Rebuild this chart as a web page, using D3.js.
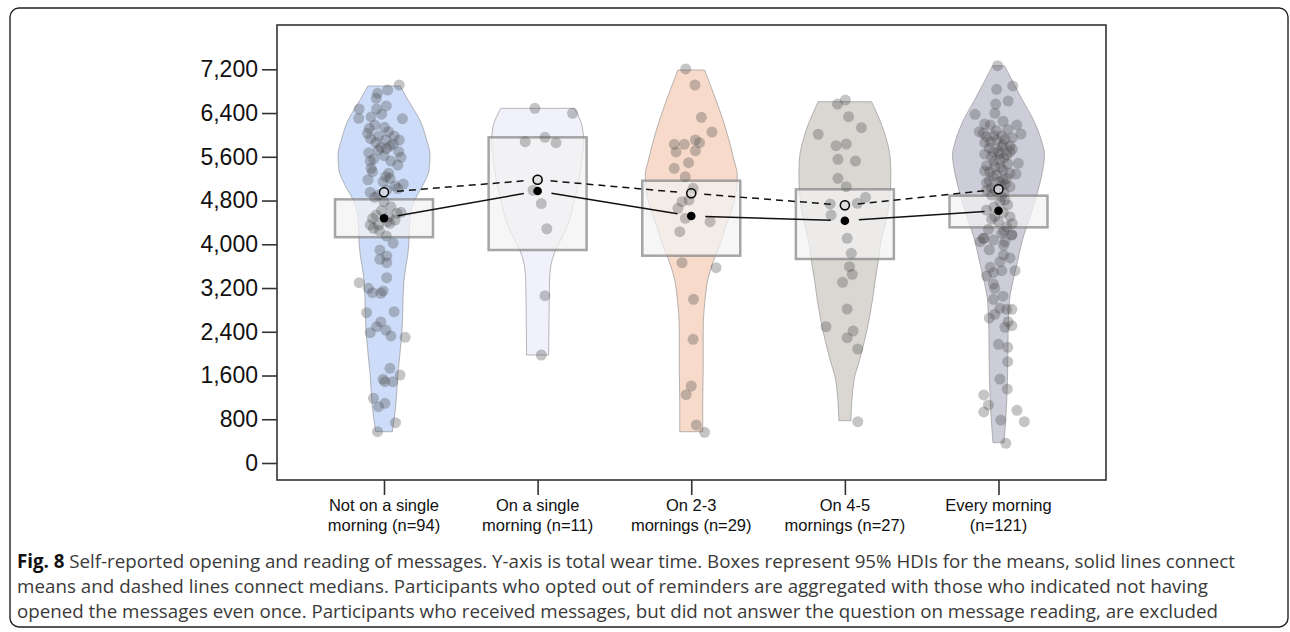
<!DOCTYPE html>
<html>
<head>
<meta charset="utf-8">
<script src="https://cdn.jsdelivr.net/npm/d3@7"></script>
<style>
  body { margin: 0; background: #fff; }
  svg { display: block; }
</style>
</head>
<body>
<svg></svg>
<script>
const width = 1290;
const height = 632;

// categories and model summaries (wear time, minutes)
const categories = [
  ['Not on a single', 'morning (n=94)'],
  ['On a single', 'morning (n=11)'],
  ['On 2-3', 'mornings (n=29)'],
  ['On 4-5', 'mornings (n=27)'],
  ['Every morning', '(n=121)']
];
const means   = [4475, 4974, 4517, 4431, 4614];
const medians = [4950, 5181, 4932, 4713, 5005];
const hdiLow  = [4130, 3895, 3791, 3731, 4310];
const hdiHigh = [4822, 5956, 5163, 5005, 4889];
const yTicks = [0, 800, 1600, 2400, 3200, 4000, 4800, 5600, 6400, 7200];
const fills = ['#c4d6f7', '#eeeefb', '#f6d3c1', '#d4d0ca', '#c4c4d2'];

// violin outlines: [value, relative density]
const violin1 = [[572,0.18],[1000,0.25],[1600,0.30],[2400,0.39],[3300,0.43],[4000,0.54],[4260,0.55],[4535,0.57],[4810,0.67],[5085,0.85],[5360,0.98],[5630,1.0],[5900,0.93],[6270,0.78],[6640,0.52],[6895,0.35]];
const violin2 = [[1975,0.24],[2800,0.25],[3347,0.26],[3621,0.29],[3895,0.39],[4078,0.50],[4444,0.69],[4810,0.80],[5175,0.90],[5541,0.96],[5907,1.0],[6150,0.97],[6487,0.80]];
const violin3 = [[572,0.25],[1152,0.25],[1701,0.26],[2432,0.26],[2981,0.30],[3347,0.36],[3712,0.49],[4078,0.66],[4261,0.72],[4627,0.88],[4993,0.98],[5267,1.0],[5541,0.93],[5907,0.82],[6273,0.69],[6655,0.53],[7187,0.29]];
const violin4 = [[774,0.13],[1518,0.20],[1884,0.32],[2432,0.48],[2981,0.60],[3347,0.66],[3712,0.73],[4078,0.79],[4444,0.90],[4993,0.99],[5267,1.0],[5541,0.99],[6090,0.84],[6607,0.58]];
const violin5 = [[371,0.12],[969,0.17],[1701,0.20],[2432,0.21],[2981,0.24],[3347,0.32],[3712,0.42],[4078,0.52],[4444,0.66],[4810,0.80],[5267,0.94],[5633,1.0],[5907,0.93],[6273,0.76],[6639,0.52],[7266,0.13]];

// participants: [value, jitter]
const points1 = [[6913,0.33],[6821,0.08],[6761,-0.14],[6670,-0.17],[6474,-0.54],[6304,-0.55],[6474,-0.16],[6328,-0.28],[6297,0.40],[6181,-0.2],
  [6139,0.01],[6030,-0.36],[5931,-0.29],[5980,-0.12],[5907,0.04],[5980,0.22],[5907,0.33],[5774,-0.07],[5797,0.13],[5693,0.32],
  [5591,0.37],[5675,-0.33],[5724,-0.12],[5523,0.15],[5523,-0.3],[5327,-0.25],[5389,-0.28],[5236,0.04],[5207,0.13],[5145,-0.02],
  [5071,0.24],[5102,0.42],[4951,-0.3],[4901,-0.12],[4993,0.06],[4687,0.15],[4567,0.28],[4585,0.37],[4535,-0.17],[4413,0.07],
  [4444,0.24],[4353,-0.3],[4292,-0.23],[4384,0.13],[4353,-0.12],[3895,-0.09],[3786,0.06],[3725,-0.09],[3663,0.06],[3389,0.06],
  [3297,-0.54],[3195,-0.34],[3114,-0.25],[3146,-0.02],[3103,-0.07],[2749,-0.38],[2767,0.22],[2579,-0.07],[2493,-0.16],[2432,0.04],
  [2383,-0.3],[2323,0.15],[2299,0.46],[1732,0.13],[1609,0.35],[1531,-0.02],[1487,0.19],[1487,0.02],[1183,-0.23],[1030,-0.12],
  [1092,0.02],[737,0.25],[572,-0.14],[6530,0.05],[6380,-0.05],[6120,-0.32],[6060,0.1],[5860,-0.18],[5830,0.2],[5750,0.05],
  [5620,0.0],[5560,-0.22],[5450,0.3],[5300,0.1],[5180,-0.35],[5020,0.3],[4860,-0.2],[4780,0.0],[4620,-0.05],[4500,0.1],
  [4470,-0.25],[4250,-0.1],[4150,0.05],[4020,0.2]];
const points2 = [[6487,-0.06],[6396,0.76],[5876,-0.27],[5957,0.16],[5858,0.4],[5181,0.0],[4988,-0.1],[4745,0.08],[4284,0.2],[3059,0.16],[1975,0.08]];
const points3 = [[7206,-0.12],[6913,0.08],[6322,0.22],[6053,0.45],[5828,-0.37],[5828,-0.15],[5907,0.09],[5858,0.18],[5688,-0.33],[5711,0.09],
  [5492,-0.06],[5389,-0.37],[5236,-0.13],[5024,0.04],[4932,0.0],[4810,-0.05],[4779,-0.2],[4658,-0.29],[4475,-0.13],[4413,0.41],
  [4230,-0.25],[3663,-0.2],[3572,0.54],[2994,0.05],[2262,0.04],[1408,0.0],[1249,-0.11],[695,0.11],[561,0.29]];
const points4 = [[6638,0.01],[6565,-0.16],[6333,0.08],[6132,0.36],[6011,-0.58],[5834,0.03],[5803,-0.19],[5554,-0.15],[5523,0.23],[5207,-0.15],
  [5053,0.03],[4859,0.45],[4750,0.27],[4713,0.0],[4737,-0.32],[4535,-0.3],[4109,0.05],[3835,0.14],[3590,0.1],[3451,0.16],
  [3305,-0.05],[2816,0.05],[2493,-0.41],[2414,0.18],[2292,0.05],[2085,0.28],[755,0.28]];
const points5 = [[7266,-0.02],[6895,0.31],[6834,-0.04],[6620,0.21],[6565,-0.06],[6396,-0.08],[6377,-0.51],[6181,-0.18],[6181,0.4],[6059,-0.42],
  [6030,-0.33],[6017,0.49],[5967,-0.26],[5990,-0.1],[5980,0.07],[5876,-0.17],[5900,-0.04],[5920,0.14],[5797,0.25],[5790,0.07],
  [5693,-0.11],[5660,0.03],[5633,0.18],[5690,0.25],[5602,-0.15],[5541,0.03],[5481,0.43],[5437,-0.26],[5419,-0.08],[5358,0.1],
  [5327,-0.19],[5267,-0.04],[5207,0.18],[5285,0.38],[5145,0.03],[5126,-0.26],[5053,0.25],[5100,0.14],[4993,-0.08],[4870,0.07],
  [4779,0.03],[4990,-0.26],[4627,-0.26],[4810,0.14],[4504,0.25],[4504,-0.08],[4413,0.0],[4321,0.18],[4274,-0.22],[4201,0.07],
  [4109,-0.33],[4170,0.29],[4078,-0.11],[4047,0.14],[4047,-0.4],[4109,-0.32],[4170,0.29],[3987,0.11],[3804,0.11],[3681,0.03],
  [3579,-0.18],[3420,-0.26],[3480,-0.11],[3517,0.07],[3517,0.36],[3274,-0.11],[3195,-0.08],[2994,-0.11],[2829,0.03],[2811,0.18],
  [2811,0.29],[2719,-0.08],[2584,0.21],[2511,0.29],[2482,0.14],[2171,0.0],[2116,0.2],[1853,0.2],[1536,0.03],[1353,0.19],
  [1244,-0.32],[1061,-0.22],[933,-0.32],[964,0.4],[786,0.05],[755,0.56],[360,0.16],
  [6250,0.1],[6200,-0.3],[6100,0.2],[6080,-0.05],[5950,0.3],[5860,-0.3],[5820,0.1],[5760,-0.2],[5740,0.3],[5700,0.0],
  [5650,-0.3],[5580,0.12],[5520,-0.1],[5470,0.2],[5400,0.05],[5340,-0.3],[5300,0.25],[5240,-0.12],[5180,0.1],[5160,-0.2],
  [5080,0.05],[5030,-0.15],[4950,0.12],[4900,-0.15],[4720,0.2],[4680,-0.1],[4580,0.1],[4460,-0.15],[4380,0.3],[4240,0.12],
  [3900,-0.2],[3750,0.25],[3050,0.1],[2650,-0.2]];

const violins = [violin1, violin2, violin3, violin4, violin5];
const points = [points1, points2, points3, points4, points5];

const svg = d3.select('svg')
  .attr('width', width)
  .attr('height', height);

const frame = { left: 277, right: 1106, top: 25, bottom: 480 };

const x = d3.scalePoint()
  .domain(d3.range(categories.length))
  .range([384, 998.5]);

const y = d3.scaleLinear()
  .domain([0, 7200])
  .range([463, 69.3]);

const w = d3.scaleLinear().domain([0, 1]).range([0, 46]);
const boxHalf = 49;

// outer figure border
svg.append('rect')
  .attr('x', 10).attr('y', 8)
  .attr('width', 1278).attr('height', 619)
  .attr('rx', 9)
  .attr('fill', 'none')
  .attr('stroke', '#222')
  .attr('stroke-width', 1.4);

// plot frame
svg.append('rect')
  .attr('x', frame.left).attr('y', frame.top)
  .attr('width', frame.right - frame.left)
  .attr('height', frame.bottom - frame.top)
  .attr('fill', 'none')
  .attr('stroke', '#333')
  .attr('stroke-width', 1.6);

// violins
const area = d3.area()
  .curve(d3.curveMonotoneY)
  .y(d => y(d[0]));

svg.append('g').selectAll('path')
  .data(violins)
  .join('path')
    .attr('d', (d, i) => area
      .x0(p => x(i) - w(p[1]))
      .x1(p => x(i) + w(p[1]))(d))
    .attr('fill', (d, i) => fills[i])
    .attr('fill-opacity', 0.85)
    .attr('stroke', '#8a8a8a')
    .attr('stroke-opacity', 0.6)
    .attr('stroke-width', 1);

// HDI boxes
svg.append('g').selectAll('rect')
  .data(d3.range(categories.length))
  .join('rect')
    .attr('x', i => x(i) - boxHalf)
    .attr('y', i => y(hdiHigh[i]))
    .attr('width', boxHalf * 2)
    .attr('height', i => y(hdiLow[i]) - y(hdiHigh[i]))
    .attr('fill', '#f2f2f2')
    .attr('fill-opacity', 0.72)
    .attr('stroke', '#888')
    .attr('stroke-opacity', 0.75)
    .attr('stroke-width', 2.5);

// jittered participants
svg.append('g').selectAll('g')
  .data(points)
  .join('g')
  .each(function(d, i) {
    d3.select(this).selectAll('circle')
      .data(d)
      .join('circle')
        .attr('cx', p => x(i) + w(p[1]))
        .attr('cy', p => y(p[0]))
        .attr('r', 5.5)
        .attr('fill', '#4a4a4a')
        .attr('fill-opacity', 0.32);
  });

// connecting lines, stopped short of the markers
function segments(values, gap) {
  const out = [];
  for (let i = 0; i < values.length - 1; i++) {
    const x1 = x(i), y1 = y(values[i]);
    const x2 = x(i + 1), y2 = y(values[i + 1]);
    const len = Math.hypot(x2 - x1, y2 - y1);
    const ux = (x2 - x1) / len, uy = (y2 - y1) / len;
    out.push([x1 + ux * gap, y1 + uy * gap, x2 - ux * gap, y2 - uy * gap]);
  }
  return out;
}

svg.append('g').selectAll('line')
  .data(segments(means, 14))
  .join('line')
    .attr('x1', d => d[0]).attr('y1', d => d[1])
    .attr('x2', d => d[2]).attr('y2', d => d[3])
    .attr('stroke', '#111')
    .attr('stroke-width', 1.5);

svg.append('g').selectAll('line')
  .data(segments(medians, 13))
  .join('line')
    .attr('x1', d => d[0]).attr('y1', d => d[1])
    .attr('x2', d => d[2]).attr('y2', d => d[3])
    .attr('stroke', '#111')
    .attr('stroke-width', 1.5)
    .attr('stroke-dasharray', '7,5');

// mean and median markers
svg.append('g').selectAll('circle')
  .data(means)
  .join('circle')
    .attr('cx', (d, i) => x(i))
    .attr('cy', d => y(d))
    .attr('r', 4.3)
    .attr('fill', '#000');

svg.append('g').selectAll('circle')
  .data(medians)
  .join('circle')
    .attr('cx', (d, i) => x(i))
    .attr('cy', d => y(d))
    .attr('r', 4.5)
    .attr('fill', '#fff')
    .attr('fill-opacity', 0.55)
    .attr('stroke', '#000')
    .attr('stroke-width', 1.5);

// y axis
const yAxis = svg.append('g')
  .attr('transform', `translate(${frame.left},0)`)
  .call(d3.axisLeft(y)
    .tickValues(yTicks)
    .tickSize(15)
    .tickPadding(4)
    .tickFormat(d3.format(',')));
yAxis.select('.domain').remove();
yAxis.selectAll('line').attr('stroke', '#333').attr('stroke-width', 1.6);
yAxis.selectAll('text')
  .attr('font-family', '"Liberation Sans", Arial, sans-serif')
  .attr('font-size', 23)
  .attr('fill', '#111');

// x axis
const xAxis = svg.append('g')
  .attr('transform', `translate(0,${frame.bottom})`)
  .call(d3.axisBottom(x).tickSize(15).tickFormat(''));
xAxis.select('.domain').remove();
xAxis.selectAll('line').attr('stroke', '#333').attr('stroke-width', 1.6);

svg.append('g').selectAll('text')
  .data(categories)
  .join('text')
    .attr('x', (d, i) => x(i))
    .attr('y', 511)
    .attr('text-anchor', 'middle')
    .attr('font-family', '"Liberation Sans", Arial, sans-serif')
    .attr('font-size', 16.5)
    .attr('fill', '#111')
    .each(function(d) {
      d3.select(this).selectAll('tspan')
        .data(d)
        .join('tspan')
          .attr('x', function() { return this.parentNode.getAttribute('x'); })
          .attr('dy', (t, k) => k === 0 ? 0 : 20)
          .text(t => t);
    });

// caption
const captionLines = [
  'Self-reported opening and reading of messages. Y-axis is total wear time. Boxes represent 95% HDIs for the means, solid lines connect',
  'means and dashed lines connect medians. Participants who opted out of reminders are aggregated with those who indicated not having',
  'opened the messages even once. Participants who received messages, but did not answer the question on message reading, are excluded'
];
const captionEnds = [1235, 1208, 1218];
const captionX = 17;

const caption = svg.append('g')
  .attr('font-family', '"Open Sans", "Noto Sans", sans-serif')
  .attr('font-size', 18)
  .attr('fill', '#3a3a3a');

caption.selectAll('text')
  .data(captionLines)
  .join('text')
    .attr('x', captionX)
    .attr('y', (d, i) => 568 + i * 25)
    .each(function(d, i) {
      const t = d3.select(this);
      if (i === 0) {
        t.append('tspan').attr('font-weight', 'bold').attr('fill', '#111').text('Fig. 8');
        t.append('tspan').text(' ' + d);
      } else {
        t.text(d);
      }
    });

// fit caption lines to the measured widths
const natural = caption.selectAll('text').nodes().map(n => n.getComputedTextLength());
const scale = d3.mean(natural, (n, i) => (captionEnds[i] - captionX) / n);
caption.attr('font-size', 18 * scale);
caption.selectAll('text')
  .attr('textLength', (d, i) => captionEnds[i] - captionX)
  .attr('lengthAdjust', 'spacing');
</script>
</body>
</html>
